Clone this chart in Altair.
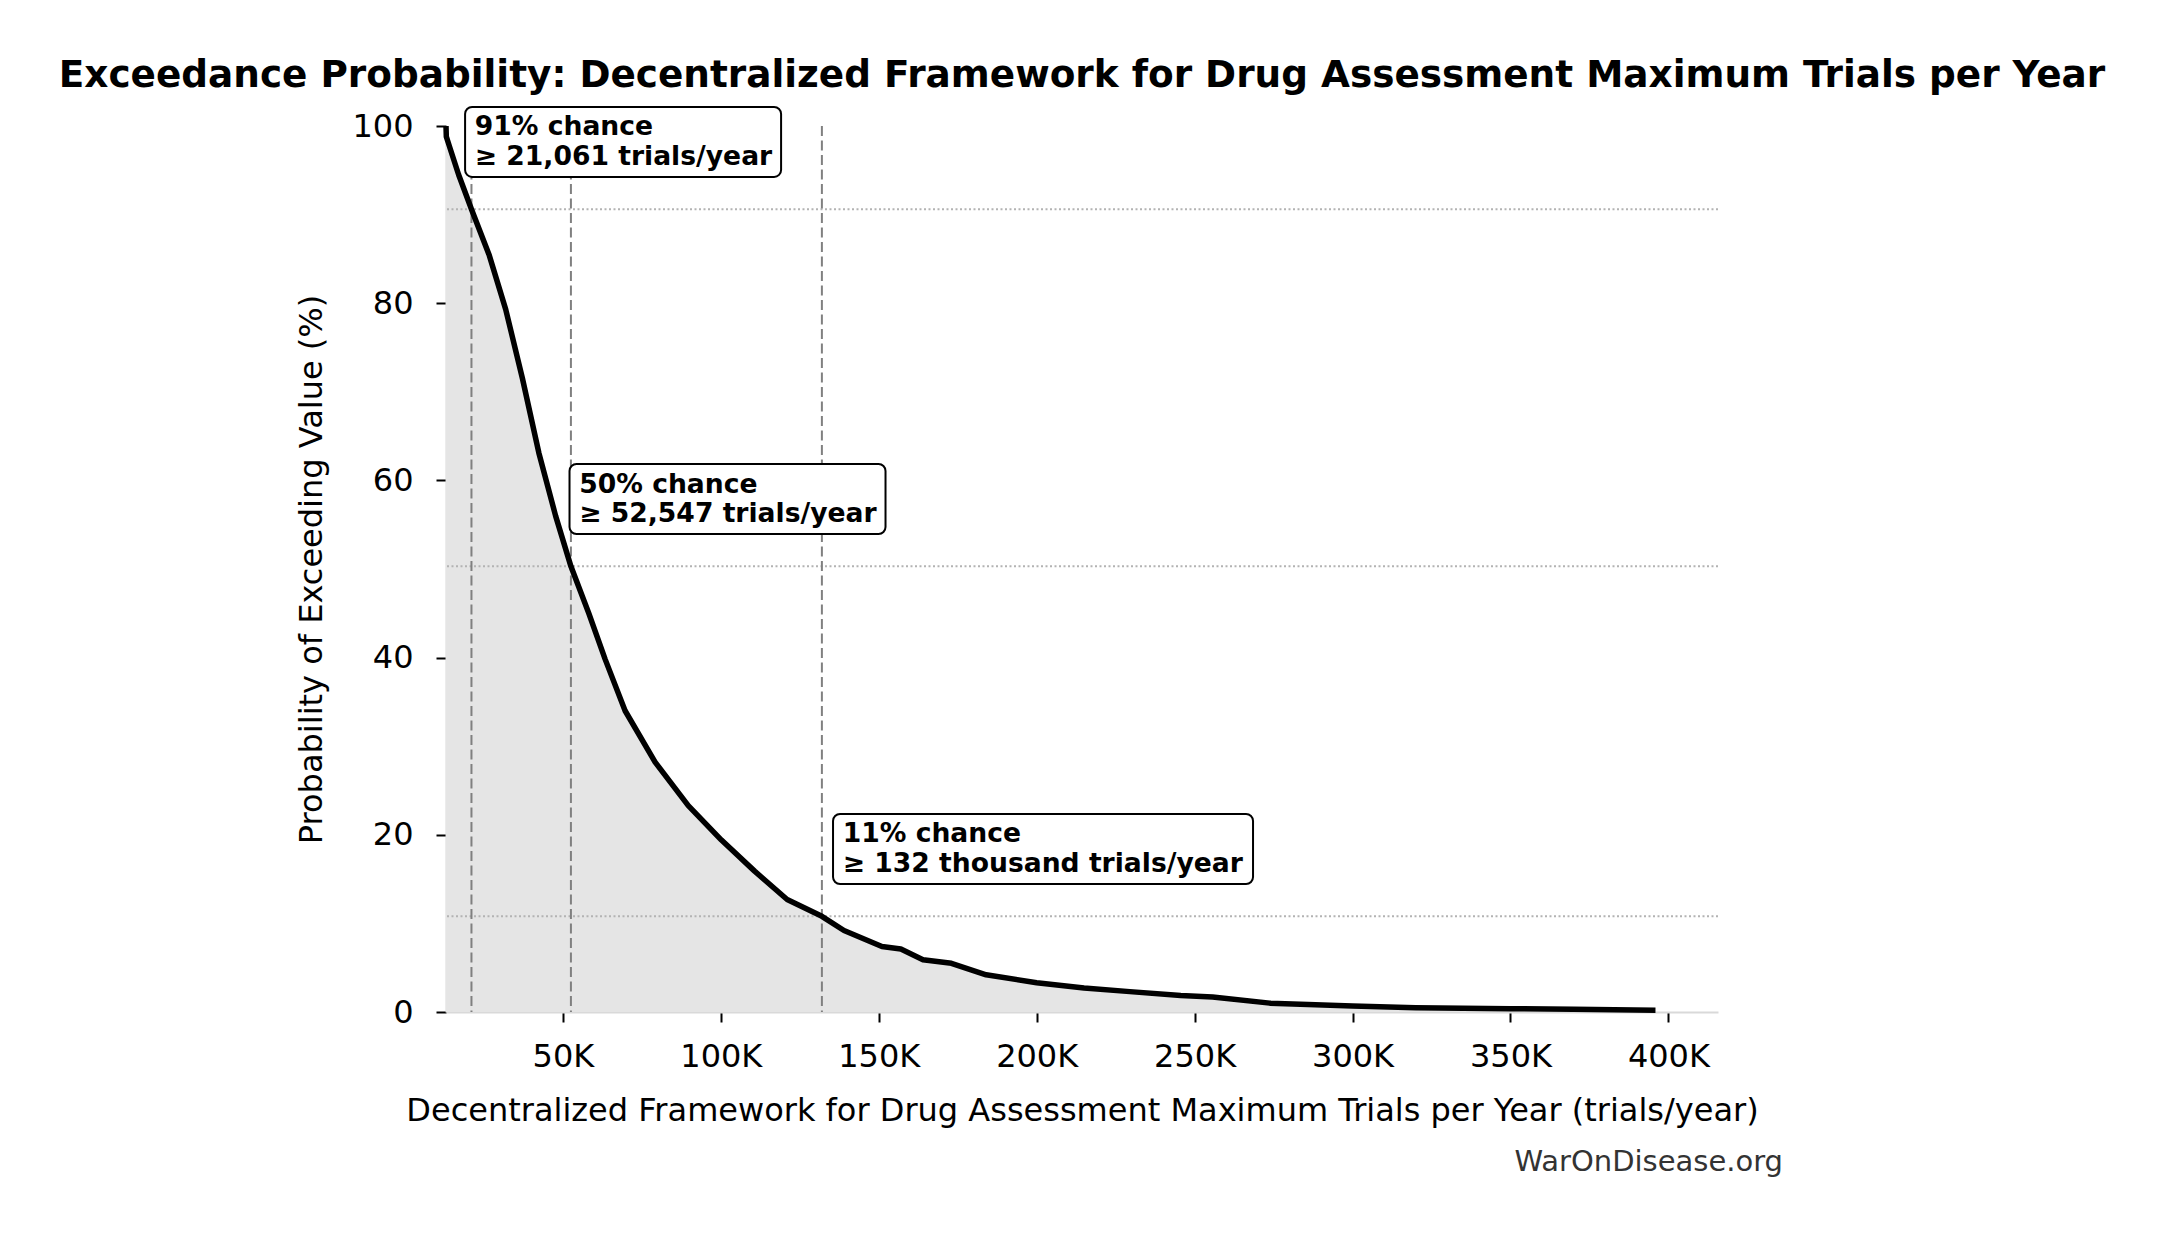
import altair as alt
import pandas as pd

# ---- data ----
trial_values = [13000, 13100, 14000, 17000, 21061, 26700, 31900, 37200, 42400, 47700,
                52547, 58200, 63400, 69700, 79200, 89700, 100200, 110700, 121000, 132000,
                139000, 151000, 157000, 164000, 173000, 184000, 200000, 215000, 229500,
                245600, 255700, 273800, 285900, 300000, 320000, 350000, 370000, 395900]
exceed_probs = [100.0, 98.8, 97.8, 94.5, 90.6, 85.4, 79.3, 71.5, 63.1, 56.0,
                50.3, 45.0, 39.8, 34.0, 28.2, 23.3, 19.4, 15.9, 12.7, 10.8,
                9.2, 7.4, 7.1, 5.9, 5.5, 4.2, 3.3, 2.7, 2.3,
                1.85, 1.7, 1.0, 0.85, 0.67, 0.48, 0.37, 0.3, 0.2]

marker_values = [21061, 52547, 132000]
marker_probs = [90.6, 50.3, 10.8]
marker_labels = ["91% chance\n≥ 21,061 trials/year",
                 "50% chance\n≥ 52,547 trials/year",
                 "11% chance\n≥ 132 thousand trials/year"]
box_widths = [316, 316, 420]

x_ticks = [50000, 100000, 150000, 200000, 250000, 300000, 350000, 400000]
y_ticks = [0, 20, 40, 60, 80, 100]

title_text = "Exceedance Probability: Decentralized Framework for Drug Assessment Maximum Trials per Year"
x_title = "Decentralized Framework for Drug Assessment Maximum Trials per Year (trials/year)"
y_title = "Probability of Exceeding Value (%)"
credit = "WarOnDisease.org"

FONT = "DejaVu Sans"


def box_path(w, h=70, pad=9.7, r=7):
    x0, x1 = -pad, w - pad
    y0, y1 = -h / 2, h / 2
    return (f"M{x0 + r},{y0} H{x1 - r} A{r},{r} 0 0 1 {x1},{y0 + r} "
            f"V{y1 - r} A{r},{r} 0 0 1 {x1 - r},{y1} H{x0 + r} "
            f"A{r},{r} 0 0 1 {x0},{y1 - r} V{y0 + r} A{r},{r} 0 0 1 {x0 + r},{y0} Z")


curve = pd.DataFrame({"value": trial_values, "prob": exceed_probs})
markers = pd.DataFrame({
    "value": marker_values,
    "prob": marker_probs,
    "label": marker_labels,
    "shape": [box_path(w) for w in box_widths],
})
markers["label_x"] = markers["value"] * 1.05
markers["label_y"] = markers["prob"] + 7.6

x_dom = [min(trial_values), max(trial_values) * 1.05]
x_scale = alt.Scale(domain=x_dom, nice=False, zero=False)
y_scale = alt.Scale(domain=[0, 100], nice=False)

x_axis = alt.Axis(
    values=x_ticks, labelExpr="(datum.value / 1000) + 'K'",
    title=x_title, titleY=98, titleBaseline="middle",
    labelPadding=19, tickSize=10,
)
y_axis = alt.Axis(
    values=y_ticks, title=y_title, titleX=-135, titleY=443,
    titleAngle=270, titleBaseline="middle", titleAlign="center",
    labelPadding=23, tickSize=10,
)

area = alt.Chart(curve).mark_area(color="#e5e5e5", opacity=1).encode(
    x=alt.X("value:Q", scale=x_scale, axis=x_axis),
    y=alt.Y("prob:Q", scale=y_scale, axis=y_axis),
)

hrules = alt.Chart(markers).mark_rule(
    color="#b3b3b3", strokeWidth=2, strokeDash=[2, 2.5]
).encode(y=alt.Y("prob:Q", scale=y_scale))

vrules = alt.Chart(markers).mark_rule(
    color="#808080", strokeWidth=2, strokeDash=[10, 4.5]
).encode(x=alt.X("value:Q", scale=x_scale))

line = alt.Chart(curve).mark_line(color="black", strokeWidth=5.5, strokeJoin="round").encode(
    x=alt.X("value:Q", scale=x_scale),
    y=alt.Y("prob:Q", scale=y_scale),
)

boxes = alt.Chart(markers).mark_point(
    filled=True, fill="white", stroke="black", strokeWidth=2, opacity=1,
    fillOpacity=1, strokeOpacity=1, size=4,
).encode(
    x=alt.X("label_x:Q", scale=x_scale),
    y=alt.Y("label_y:Q", scale=y_scale),
    shape=alt.Shape("shape:N", scale=None),
)

labels = alt.Chart(markers).mark_text(
    align="left", baseline="middle", font=FONT, fontWeight="bold",
    fontSize=26.6, lineHeight=29.5, lineBreak="\n", color="black", dy=-14.5,
).encode(
    x=alt.X("label_x:Q", scale=x_scale),
    y=alt.Y("label_y:Q", scale=y_scale),
    text="label:N",
)

credit_text = alt.Chart(pd.DataFrame({"t": [credit]})).mark_text(
    align="right", baseline="alphabetic", font=FONT, fontSize=29, color="#333333",
).encode(x=alt.value(1337), y=alt.value(1045), text="t:N")

chart = alt.layer(area, hrules, vrules, line, boxes, labels, credit_text).properties(
    width=1272, height=886,
    padding={"left": 438, "top": 118, "right": 435, "bottom": 214},
    autosize=alt.AutoSizeParams(type="none"),
    title=alt.TitleParams(
        text=title_text, font=FONT, fontSize=37.4, fontWeight="bold",
        anchor="middle", frame="group", offset=9, color="black",
    ),
).configure_view(stroke=None).configure_axis(
    labelFont=FONT, titleFont=FONT, labelFontSize=32, titleFontSize=32,
    titleFontWeight="normal", labelColor="black", titleColor="black",
    grid=False, domainColor="#d9d9d9", domainWidth=2,
    tickColor="black", tickWidth=2,
)

chart.save("out.html", embed_options={"renderer": "svg", "actions": False})
